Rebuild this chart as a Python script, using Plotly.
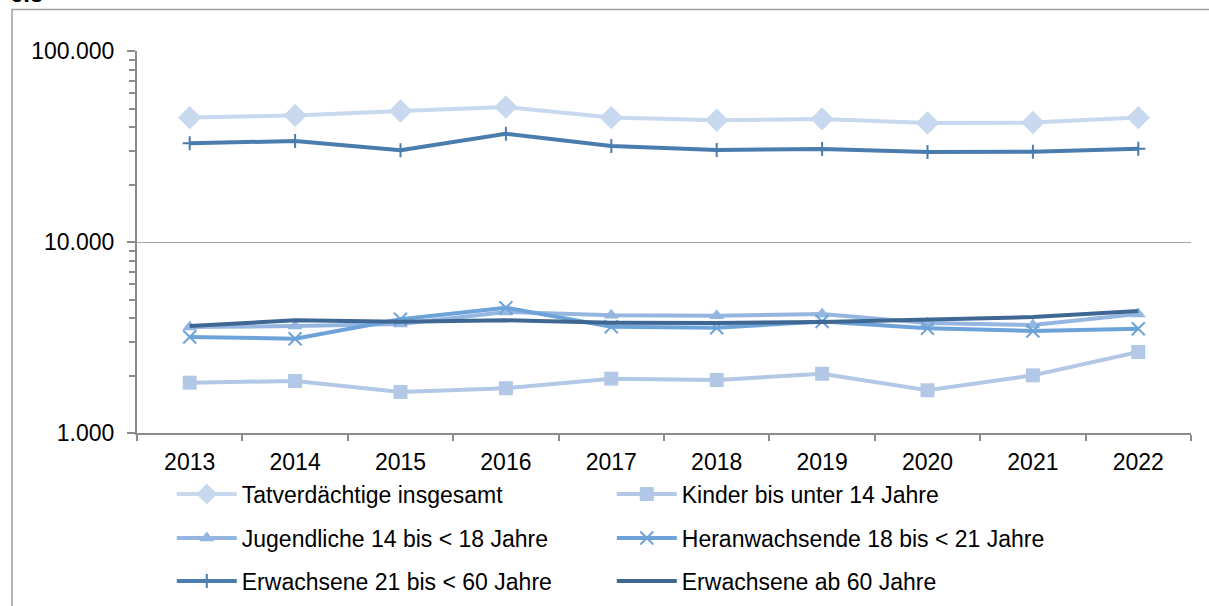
import plotly.graph_objects as go

years = ["2013", "2014", "2015", "2016", "2017", "2018", "2019", "2020", "2021", "2022"]

tatverdaechtige = [44800, 46000, 48500, 50900, 44800, 43400, 44100, 42000, 42200, 44800]
kinder = [1834, 1872, 1640, 1715, 1925, 1895, 2043, 1674, 2004, 2655]
jugendliche = [3590, 3630, 3720, 4300, 4130, 4110, 4200, 3770, 3675, 4200]
heranwachsende = [3182, 3118, 3937, 4530, 3600, 3557, 3835, 3532, 3420, 3515]
erwachsene_21_60 = [32870, 33800, 30200, 36900, 31840, 30330, 30690, 29600, 29700, 30800]
erwachsene_60 = [3632, 3890, 3827, 3890, 3780, 3767, 3811, 3906, 4046, 4350]

names = [
    "Tatverdächtige insgesamt",
    "Kinder bis unter 14 Jahre",
    "Jugendliche 14 bis < 18 Jahre",
    "Heranwachsende 18 bis < 21 Jahre",
    "Erwachsene 21 bis < 60 Jahre",
    "Erwachsene ab 60 Jahre",
]
series = [tatverdaechtige, kinder, jugendliche, heranwachsende, erwachsene_21_60, erwachsene_60]
colors = ["#c8d8ee", "#b2c8e6", "#94b6e0", "#6ea3d9", "#4a7cae", "#3e6893"]
symbols = ["diamond", "square", "triangle-up", "x-thin", "cross-thin", None]
sizes = [18, 14, 13, 13, 10, 0]
legends = ["legend", "legend", "legend2", "legend2", "legend3", "legend3"]

ytickvals = [1000, 10000, 100000]
yticktext = ["1.000", "10.000", "100.000"]
yminor = [m * 1000 for m in range(2, 10)] + [m * 10000 for m in range(2, 10)]

FONT = "Liberation Sans, Arial, sans-serif"
GRID = "#a6a6a6"
AXIS = "#8c8c8c"

fig = go.Figure()
for name, vals, col, sym, sz, lg in zip(names, series, colors, symbols, sizes, legends):
    if sym is None:
        mode = "lines"
        marker = None
    else:
        mode = "lines+markers"
        if sym in ("x-thin", "cross-thin"):
            marker = dict(symbol=sym, size=sz, color=col, line=dict(color=col, width=2))
        else:
            marker = dict(symbol=sym, size=sz, color=col, line=dict(width=0))
    fig.add_trace(go.Scatter(
        x=years, y=vals, name=name, mode=mode, legend=lg,
        line=dict(color=col, width=4),
        marker=marker,
    ))

legend_common = dict(
    orientation="h", xanchor="left", yanchor="middle", yref="container",
    font=dict(family=FONT, size=23, color="#000000"),
    bgcolor="rgba(0,0,0,0)", entrywidth=365, entrywidthmode="pixels",
    itemwidth=60,
)

fig.update_layout(
    width=1209, height=606,
    margin=dict(l=137, r=18, t=51, b=173, autoexpand=False),
    paper_bgcolor="white", plot_bgcolor="white",
    font=dict(family=FONT, size=23, color="#000000"),
    showlegend=True,
    legend=dict(x=0.033, y=1 - 494 / 606, **legend_common),
    legend2=dict(x=0.033, y=1 - 538 / 606, **legend_common),
    legend3=dict(x=0.033, y=1 - 581 / 606, **legend_common),
    xaxis=dict(
        type="category", range=[-0.5, 9.5], automargin=False,
        showline=True, linecolor=AXIS, linewidth=2,
        ticks="outside", tickson="boundaries", ticklen=6, tickcolor=AXIS, tickwidth=2,
        showgrid=False, tickfont=dict(size=23),
        ticklabelstandoff=7,
    ),
    yaxis=dict(
        type="log", range=[3, 5], automargin=False,
        tickvals=ytickvals, ticktext=yticktext,
        showline=True, linecolor=AXIS, linewidth=2,
        ticks="outside", ticklen=8, tickcolor=AXIS, tickwidth=2,
        showgrid=True, gridcolor=GRID, gridwidth=1.3,
        minor=dict(tickvals=yminor, ticks="outside", ticklen=6, tickcolor=AXIS, tickwidth=1.5, showgrid=False),
        tickfont=dict(size=23),
        ticklabelstandoff=8,
    ),
    shapes=[dict(
        type="rect", xref="paper", yref="paper",
        x0=(12 - 137) / 1054, x1=1.3, y0=-1.0, y1=(433 - 9.5) / 382,
        line=dict(color="#a0a0a0", width=1.5), fillcolor="rgba(0,0,0,0)", layer="below",
    )],
    annotations=[dict(
        text="<b>6.5</b>", xref="paper", yref="paper",
        x=(8 - 137) / 1054, y=(433 - 9) / 382, xanchor="left", yanchor="bottom",
        showarrow=False, font=dict(family=FONT, size=24, color="#000000"),
    )],
)

fig.write_html(
    "out.html",
    config={"displayModeBar": False},
    post_script="document.body.style.margin='0';document.body.style.overflow='hidden';",
)
